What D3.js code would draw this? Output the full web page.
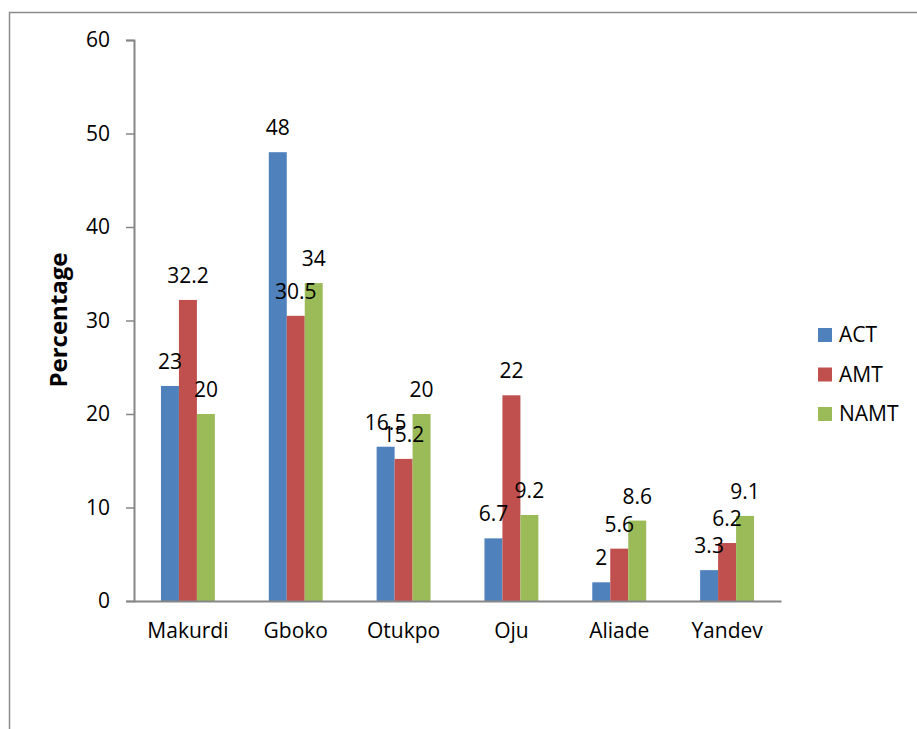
<!DOCTYPE html>
<html>
<head>
<meta charset="utf-8">
<script src="https://cdn.jsdelivr.net/npm/d3@7"></script>
<style>
  html, body { margin: 0; padding: 0; background: #fff; }
  svg { display: block; }
  text { font-family: "Open Sans", "DejaVu Sans", sans-serif; fill: #000; }
</style>
</head>
<body>
<svg id="chart" width="917" height="729"></svg>
<script>
const categories = ["Makurdi", "Gboko", "Otukpo", "Oju", "Aliade", "Yandev"];
const seriesNames = ["ACT", "AMT", "NAMT"];
const actValues  = [23, 48, 16.5, 6.7, 2, 3.3];
const amtValues  = [32.2, 30.5, 15.2, 22, 5.6, 6.2];
const namtValues = [20, 34, 20, 9.2, 8.6, 9.1];
const yTicks = [0, 10, 20, 30, 40, 50, 60];
const colors = ["#4F81BD", "#C0504D", "#9BBB59"];

const seriesValues = [actValues, amtValues, namtValues];
const svg = d3.select("#chart");

// outer frame
svg.append("rect")
  .attr("x", 9.5).attr("y", 12.5)
  .attr("width", 1000).attr("height", 1000)
  .attr("fill", "none").attr("stroke", "#8c8c8c").attr("stroke-width", 1.5);

const plotLeft = 134, plotRight = 781, plotTop = 40, plotBottom = 601;

const x = d3.scaleBand().domain(categories).range([plotLeft, plotRight])
  .paddingInner(0.5).paddingOuter(0.25);
const xs = d3.scaleBand().domain(seriesNames).range([0, x.bandwidth()]);
const y = d3.scaleLinear().domain([0, 60]).range([plotBottom, plotTop]);

// bars
const groups = svg.append("g").selectAll("g")
  .data(categories).join("g")
  .attr("transform", d => `translate(${x(d)},0)`);

groups.each(function(cat, ci) {
  const g = d3.select(this);
  seriesNames.forEach((s, si) => {
    const v = seriesValues[si][ci];
    g.append("rect")
      .attr("x", xs(s))
      .attr("y", y(v))
      .attr("width", xs.bandwidth())
      .attr("height", y(0) - y(v))
      .attr("fill", colors[si]);
  });
});

// data labels
groups.each(function(cat, ci) {
  const g = d3.select(this);
  seriesNames.forEach((s, si) => {
    const v = seriesValues[si][ci];
    g.append("text")
      .attr("x", xs(s) + xs.bandwidth() / 2)
      .attr("y", y(v) - 17)
      .attr("text-anchor", "middle")
      .style("font-size", "21px")
      .text(String(v));
  });
});

// y axis
const yAxis = d3.axisLeft(y).tickValues(yTicks).tickSize(8).tickPadding(16);
const yg = svg.append("g").attr("transform", `translate(${plotLeft},0)`).call(yAxis);
yg.select(".domain").attr("stroke", "#868686").attr("stroke-width", 2);
yg.selectAll(".tick line").attr("stroke", "#868686").attr("stroke-width", 1.5);
yg.selectAll(".tick text").style("font-size", "21px").style("font-family", "'Open Sans', sans-serif").attr("fill", "#000");

// x axis
const xAxis = d3.axisBottom(x).tickSize(0).tickPadding(22);
const xg = svg.append("g").attr("transform", `translate(0,${plotBottom})`).call(xAxis);
xg.select(".domain").attr("stroke", "#868686").attr("stroke-width", 2);
xg.selectAll(".tick text").style("font-size", "21px").style("font-family", "'Open Sans', sans-serif").attr("fill", "#000");

// y title
svg.append("text")
  .attr("transform", "translate(67,320) rotate(-90)")
  .attr("text-anchor", "middle")
  .style("font-size", "24px")
  .style("font-weight", "bold")
  .text("Percentage");

// legend
const legend = svg.append("g").selectAll("g")
  .data(seriesNames).join("g")
  .attr("transform", (d, i) => `translate(818,${328 + i * 39.5})`);
legend.append("rect").attr("width", 14).attr("height", 14)
  .attr("fill", (d, i) => colors[i]);
legend.append("text").attr("x", 21).attr("y", 14)
  .style("font-size", "21px").text(d => d);
</script>
</body>
</html>
